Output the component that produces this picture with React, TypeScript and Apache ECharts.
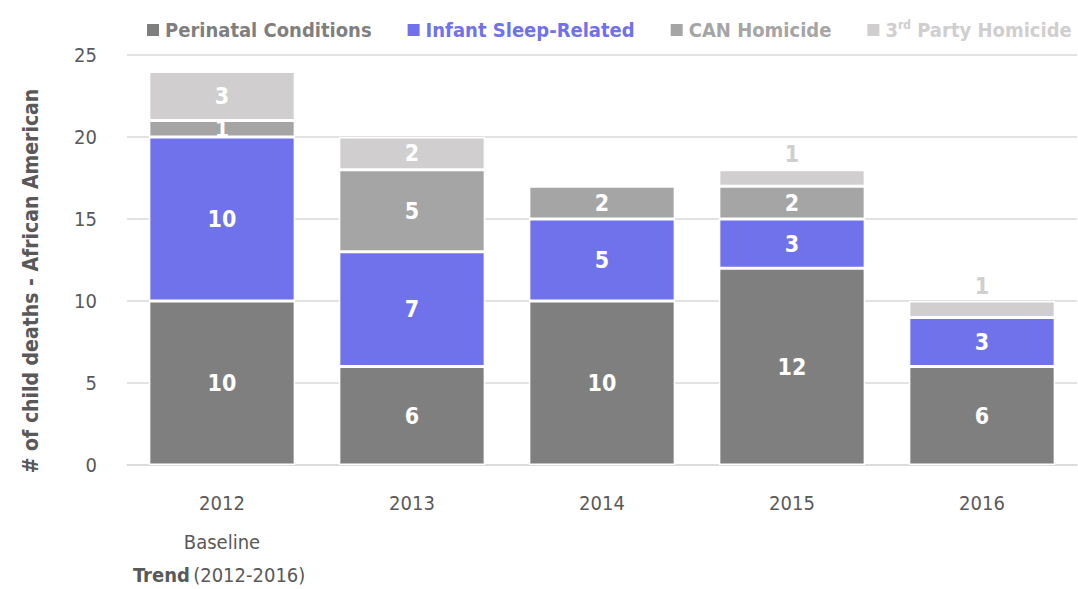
import React, { useEffect, useRef } from "react";
import * as echarts from "echarts";

const years = ["2012", "2013", "2014", "2015", "2016"];
const yearLabels = ["2012\nBaseline", "2013", "2014", "2015", "2016"];
const perinatal = [10, 6, 10, 12, 6];
const infantSleep = [10, 7, 5, 3, 3];
const canHomicide = [1, 5, 2, 2, null];
const thirdParty = [3, 2, null, 1, 1];
const seriesNames = ["Perinatal Conditions", "Infant Sleep-Related", "CAN Homicide", "3rd Party Homicide"];
const colors = ["#7f7f7f", "#6f72ea", "#a5a5a5", "#d0cece"];

const FONT = "'DejaVu Sans Condensed', 'Roboto', sans-serif";

export default function App() {
  const ref = useRef<HTMLDivElement>(null);
  useEffect(() => {
    const chart = echarts.init(ref.current!, null, { renderer: "svg" });
    const insideLabel = {
      show: true,
      position: "inside",
      color: "#ffffff",
      fontFamily: FONT,
      fontWeight: "bold",
      fontSize: 23,
    };
    const mk = (idx: number, values: (number | null)[], dataFn?: (v: number | null, i: number) => any) => ({
      name: seriesNames[idx],
      type: "bar",
      stack: "total",
      barWidth: "77%",
      itemStyle: { color: colors[idx], borderColor: "#ffffff", borderWidth: 1.5 },
      label: insideLabel,
      data: dataFn ? values.map(dataFn) : values,
    });
    chart.setOption({
      animation: false,
      color: colors,
      textStyle: { fontFamily: FONT },
      grid: { left: 127, right: 1, top: 55, bottom: 124, containLabel: false },
      legend: {
        top: 14,
        left: 140,
        right: 0,
        itemWidth: 14,
        itemHeight: 14,
        itemGap: 34,
        icon: "rect",
        data: seriesNames.map((n, i) => ({
          name: n,
          textStyle: { color: colors[i] },
        })),
        formatter: (name: string) =>
          name === "3rd Party Homicide" ? "3{sup|rd} Party Homicide" : name,
        textStyle: {
          fontFamily: FONT,
          fontWeight: "bold",
          fontSize: 20,
          rich: {
            sup: {
              fontFamily: FONT,
              fontWeight: "bold",
              fontSize: 12,
              color: colors[3],
              verticalAlign: "top",
              padding: [0, 0, 10, 0],
            },
          },
        },
      },
      xAxis: {
        type: "category",
        data: years,
        axisLine: { lineStyle: { color: "#d9d9d9", width: 1.5 } },
        axisTick: { show: false },
        axisLabel: {
          color: "#595959",
          fontFamily: FONT,
          fontSize: 20,
          lineHeight: 39,
          margin: 18,
          formatter: (_v: string, i: number) => yearLabels[i],
        },
      },
      yAxis: {
        type: "value",
        min: 0,
        max: 25,
        interval: 5,
        axisLine: { show: false },
        axisTick: { show: false },
        axisLabel: { color: "#595959", fontFamily: FONT, fontSize: 20, margin: 30 },
        splitLine: { lineStyle: { color: "#d9d9d9", width: 1.5 } },
      },
      graphic: [
        {
          type: "text",
          x: 31,
          y: 281,
          rotation: Math.PI / 2,
          style: {
            text: "# of child deaths - African American",
            fontFamily: FONT,
            fontWeight: "bold",
            fontSize: 21,
            fill: "#595959",
            align: "center",
            verticalAlign: "middle",
          },
        },
        {
          type: "text",
          left: 133,
          top: 565,
          style: {
            text: "{b|Trend} {n|(2012-2016)}",
            rich: {
              b: { fontFamily: FONT, fontWeight: "bold", fontSize: 20, fill: "#595959" },
              n: { fontFamily: FONT, fontSize: 20, fill: "#595959" },
            },
          },
        },
      ],
      series: [
        mk(0, perinatal),
        mk(1, infantSleep),
        mk(2, canHomicide),
        mk(3, thirdParty, (v) =>
          v === 1
            ? {
                value: v,
                label: {
                  show: true,
                  position: "top",
                  distance: 4,
                  color: colors[3],
                  backgroundColor: "#ffffff",
                  padding: [0, 10, 0, 10],
                },
              }
            : v
        ),
      ],
    });
    return () => chart.dispose();
  }, []);
  return (
    <div
      ref={ref}
      style={{ position: "absolute", left: 0, top: 0, width: 1078, height: 589 }}
    />
  );
}
